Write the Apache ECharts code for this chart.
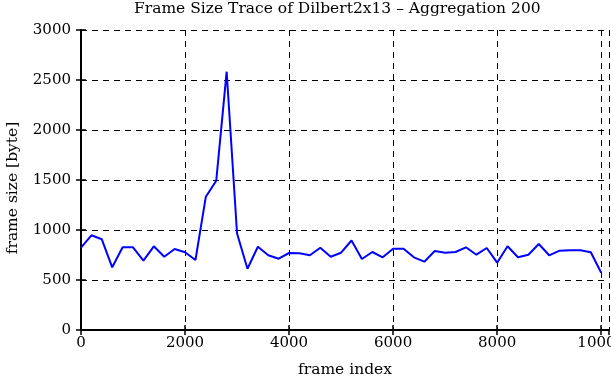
<!DOCTYPE html>
<html>
<head>
<meta charset="utf-8">
<script src="https://cdn.jsdelivr.net/npm/echarts@6/dist/echarts.min.js"></script>
<style>html,body{margin:0;padding:0;background:#fff}#c{width:611px;height:380px}</style>
</head>
<body>
<div id="c"></div>
<script>
const titleText = "Frame Size Trace of Dilbert2x13 \u2013 Aggregation 200";
const xName = "frame index";
const yName = "frame size [byte]";
const frameIndex = [0,200,400,600,800,1000,1200,1400,1600,1800,2000,2200,2400,2600,2800,3000,3200,3400,3600,3800,4000,4200,4400,4600,4800,5000,5200,5400,5600,5800,6000,6200,6400,6600,6800,7000,7200,7400,7600,7800,8000,8200,8400,8600,8800,9000,9200,9400,9600,9800,10000];
const frameSize = [823,947,907,627,827,827,693,837,733,810,777,700,1333,1493,2583,965,613,833,747,713,770,767,747,823,733,773,895,710,780,727,813,813,727,683,790,773,780,827,753,820,673,837,727,753,860,747,793,797,797,777,573];
const xTicks = {min:0, max:10150, interval:2000};
const yTicks = {min:0, max:3000, interval:500};

const font = "'DejaVu Serif', 'Liberation Serif', serif";
const chart = echarts.init(document.getElementById('c'), null, {renderer:'canvas'});
const gridLine = {show:true, lineStyle:{color:'#000', width:1, type:[6,5]}};
const axisLineStyle = {show:true, lineStyle:{color:'#000', width:2}};
const tick = {show:true, inside:true, length:5, lineStyle:{color:'#000', width:1.5}};
const plain = v => String(v);
chart.setOption({
  animation:false,
  title:{text:titleText, left:134, top:1, padding:0, textStyle:{fontFamily:font, fontSize:15.5, fontWeight:'normal', color:'#000'}},
  grid:{left:81, right:2, top:30, bottom:50, containLabel:false, outerBoundsMode:'none'},
  xAxis:[
    {type:'value', position:'bottom', min:xTicks.min, max:xTicks.max, interval:xTicks.interval,
     name:xName, nameLocation:'middle', nameGap:32, nameTextStyle:{fontFamily:font, fontSize:15.5, color:'#000'},
     axisLine:axisLineStyle, axisTick:tick, splitLine:gridLine,
     axisLabel:{fontFamily:font, fontSize:15, color:'#000', margin:6, showMaxLabel:false, hideOverlap:false, formatter:plain}},
    {type:'value', position:'top', min:xTicks.min, max:xTicks.max, interval:xTicks.interval,
     axisLine:axisLineStyle, axisTick:tick, splitLine:{show:false}, axisLabel:{show:false}}
  ],
  yAxis:[
    {type:'value', position:'left', min:yTicks.min, max:yTicks.max, interval:yTicks.interval,
     name:yName, nameLocation:'middle', nameGap:60, nameTextStyle:{fontFamily:font, fontSize:15.5, color:'#000', padding:[0,16,0,0]},
     axisLine:axisLineStyle, axisTick:tick, splitLine:gridLine,
     axisLabel:{fontFamily:font, fontSize:15, color:'#000', margin:10, formatter:plain}},
    {type:'value', position:'right', min:yTicks.min, max:yTicks.max, interval:yTicks.interval,
     axisLine:axisLineStyle, axisTick:tick, splitLine:{show:false}, axisLabel:{show:false}}
  ],
  series:[{type:'line', data:frameIndex.map((f,i)=>[f, frameSize[i]]), showSymbol:false, symbol:'none',
    lineStyle:{color:'#0000ff', width:2}, itemStyle:{color:'#0000ff'}}]
});
</script>
</body>
</html>
